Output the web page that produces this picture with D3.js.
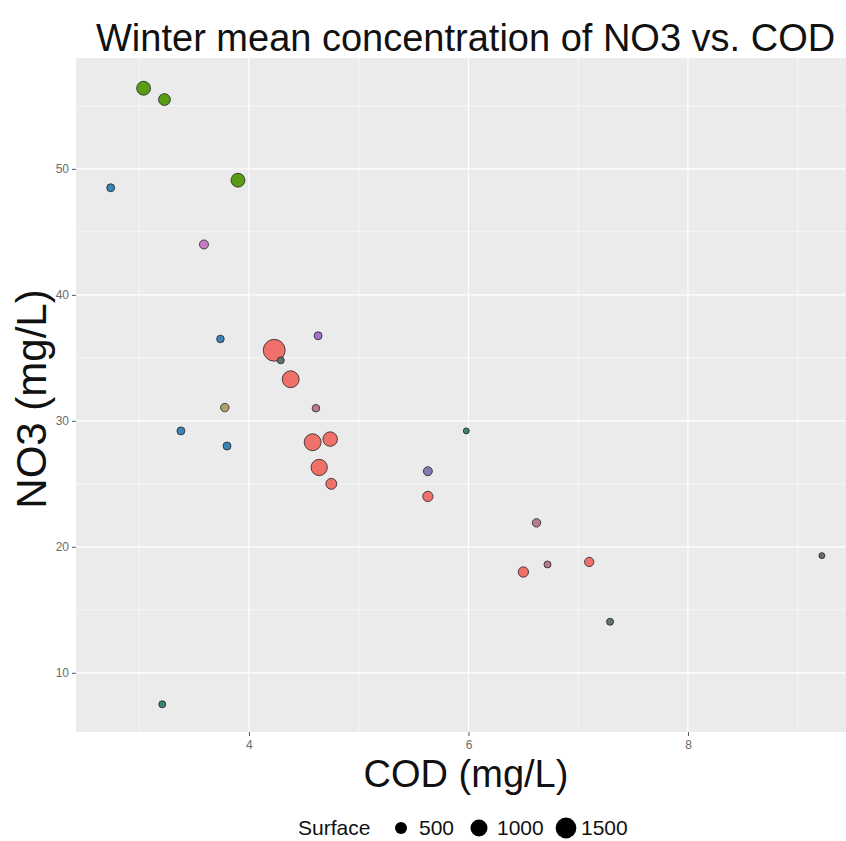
<!DOCTYPE html>
<html><head><meta charset="utf-8">
<script src="https://cdn.jsdelivr.net/npm/d3@7"></script>
<style>html,body{margin:0;padding:0;background:#fff;}svg{display:block;}</style>
</head><body>
<svg id="chart" width="846" height="841"></svg>
<script>
// ---- data ----
const cod = [3.04, 3.23, 3.90, 2.74, 3.59, 3.74, 4.23, 4.29, 4.63, 4.38, 3.78, 4.61, 3.38, 3.80, 4.58, 4.74, 4.64, 4.75, 5.98, 5.63, 5.63, 6.62, 6.50, 6.72, 7.10, 7.29, 9.22, 3.21];
const no3 = [56.4, 55.5, 49.1, 48.5, 44.0, 36.5, 35.6, 34.8, 36.75, 33.3, 31.05, 31.0, 29.2, 28.0, 28.3, 28.55, 26.3, 25.0, 29.2, 26.0, 24.0, 21.9, 18.0, 18.6, 18.8, 14.05, 19.3, 7.5];
const surface = [670, 490, 670, 220, 280, 200, 1660, 170, 220, 990, 250, 200, 220, 220, 990, 730, 920, 415, 123, 280, 370, 250, 370, 170, 300, 170, 123, 170];
const group = ["G1","G1","G1","G2","G3","G2","G4","G9","G5","G4","G10","G6","G2","G2","G4","G4","G4","G4","G8","G7","G4","G6","G4","G6","G4","G9","G9","G8"];
const groupNames = ["G1","G2","G3","G4","G5","G6","G7","G8","G9","G10"];
const groupColors = ["#589C14","#3C84B6","#C47CC2","#F0706A","#A870CE","#B47C8C","#7C7CB0","#3E7F78","#66706F","#B0A070"];
const xTicks = [4, 6, 8];
const yTicks = [10, 20, 30, 40, 50];
const xMinor = [3, 5, 7, 9];
const yMinor = [15, 25, 35, 45, 55];
const legendValues = [500, 1000, 1500];

// ---- layout ----
const svg = d3.select("#chart");
const P = {l: 76, r: 856, t: 58, b: 732};
const x = d3.scaleLinear().domain([2.424, 9.531]).range([P.l, P.r]);
const y = d3.scaleLinear().domain([5.3, 58.8]).range([P.b, P.t]);
const rScale = d3.scaleSqrt().domain([0, 1500]).range([0, 10.4]);
const color = d3.scaleOrdinal().domain(groupNames).range(groupColors);
const font = "'Liberation Sans', Arial, Helvetica, sans-serif";

svg.append("rect").attr("width", 846).attr("height", 841).attr("fill", "#fff");
svg.append("defs").append("clipPath").attr("id", "clip")
  .append("rect").attr("x", P.l).attr("y", P.t).attr("width", P.r - P.l).attr("height", P.b - P.t);

const panel = svg.append("g").attr("clip-path", "url(#clip)");
panel.append("rect").attr("x", P.l).attr("y", P.t).attr("width", P.r - P.l).attr("height", P.b - P.t).attr("fill", "#EBEBEB");

// minor grid
panel.selectAll(".xm").data(xMinor).join("line")
  .attr("x1", d => x(d)).attr("x2", d => x(d)).attr("y1", P.t).attr("y2", P.b)
  .attr("stroke", "#fff").attr("stroke-width", 0.6);
panel.selectAll(".ym").data(yMinor).join("line")
  .attr("y1", d => y(d)).attr("y2", d => y(d)).attr("x1", P.l).attr("x2", P.r)
  .attr("stroke", "#fff").attr("stroke-width", 0.6);
// major grid
panel.selectAll(".xM").data(xTicks).join("line")
  .attr("x1", d => x(d)).attr("x2", d => x(d)).attr("y1", P.t).attr("y2", P.b)
  .attr("stroke", "#fff").attr("stroke-width", 1.2);
panel.selectAll(".yM").data(yTicks).join("line")
  .attr("y1", d => y(d)).attr("y2", d => y(d)).attr("x1", P.l).attr("x2", P.r)
  .attr("stroke", "#fff").attr("stroke-width", 1.2);

// points
const pts = d3.range(cod.length).map(i => ({x: cod[i], y: no3[i], s: surface[i], g: group[i]}));
pts.sort((a, b) => b.s - a.s);
panel.selectAll("circle.pt").data(pts).join("circle").attr("class", "pt")
  .attr("cx", d => x(d.x)).attr("cy", d => y(d.y)).attr("r", d => rScale(d.s))
  .attr("fill", d => color(d.g)).attr("stroke", "#222").attr("stroke-width", 0.8);

// axes
const xAxis = svg.append("g").attr("transform", `translate(0,${P.b})`)
  .call(d3.axisBottom(x).tickValues(xTicks).tickSize(4).tickPadding(4).tickFormat(d3.format("d")));
const yAxis = svg.append("g").attr("transform", `translate(${P.l},0)`)
  .call(d3.axisLeft(y).tickValues(yTicks).tickSize(4).tickPadding(3).tickFormat(d3.format("d")));
[xAxis, yAxis].forEach(a => {
  a.select(".domain").remove();
  a.selectAll(".tick line").attr("stroke", "#555").attr("stroke-width", 1);
  a.selectAll(".tick text").attr("fill", "#6a6a6a").style("font-family", font).style("font-size", "12px");
});

// titles
svg.append("text").attr("x", 96).attr("y", 51).text("Winter mean concentration of NO3 vs. COD")
  .style("font-family", font).style("font-size", "38px").attr("fill", "#111");
svg.append("text").attr("x", 466).attr("y", 787).attr("text-anchor", "middle").text("COD (mg/L)")
  .style("font-family", font).style("font-size", "38px").attr("fill", "#111");
svg.append("text").attr("transform", `translate(46,${(P.t + P.b) / 2 + 4}) rotate(-90)`).attr("text-anchor", "middle").text("NO3 (mg/L)")
  .style("font-family", font).style("font-size", "42px").attr("fill", "#111");

// legend
const lg = svg.append("g").style("font-family", font).style("font-size", "21px").attr("fill", "#111");
lg.append("text").attr("x", 298).attr("y", 835).text("Surface");
const legendX = [401, 479, 566];
const legendTextX = [419, 497, 581];
legendValues.forEach((v, i) => {
  lg.append("circle").attr("cx", legendX[i]).attr("cy", 828).attr("r", rScale(v)).attr("fill", "#000");
  lg.append("text").attr("x", legendTextX[i]).attr("y", 835).text(v);
});
</script>
</body></html>
